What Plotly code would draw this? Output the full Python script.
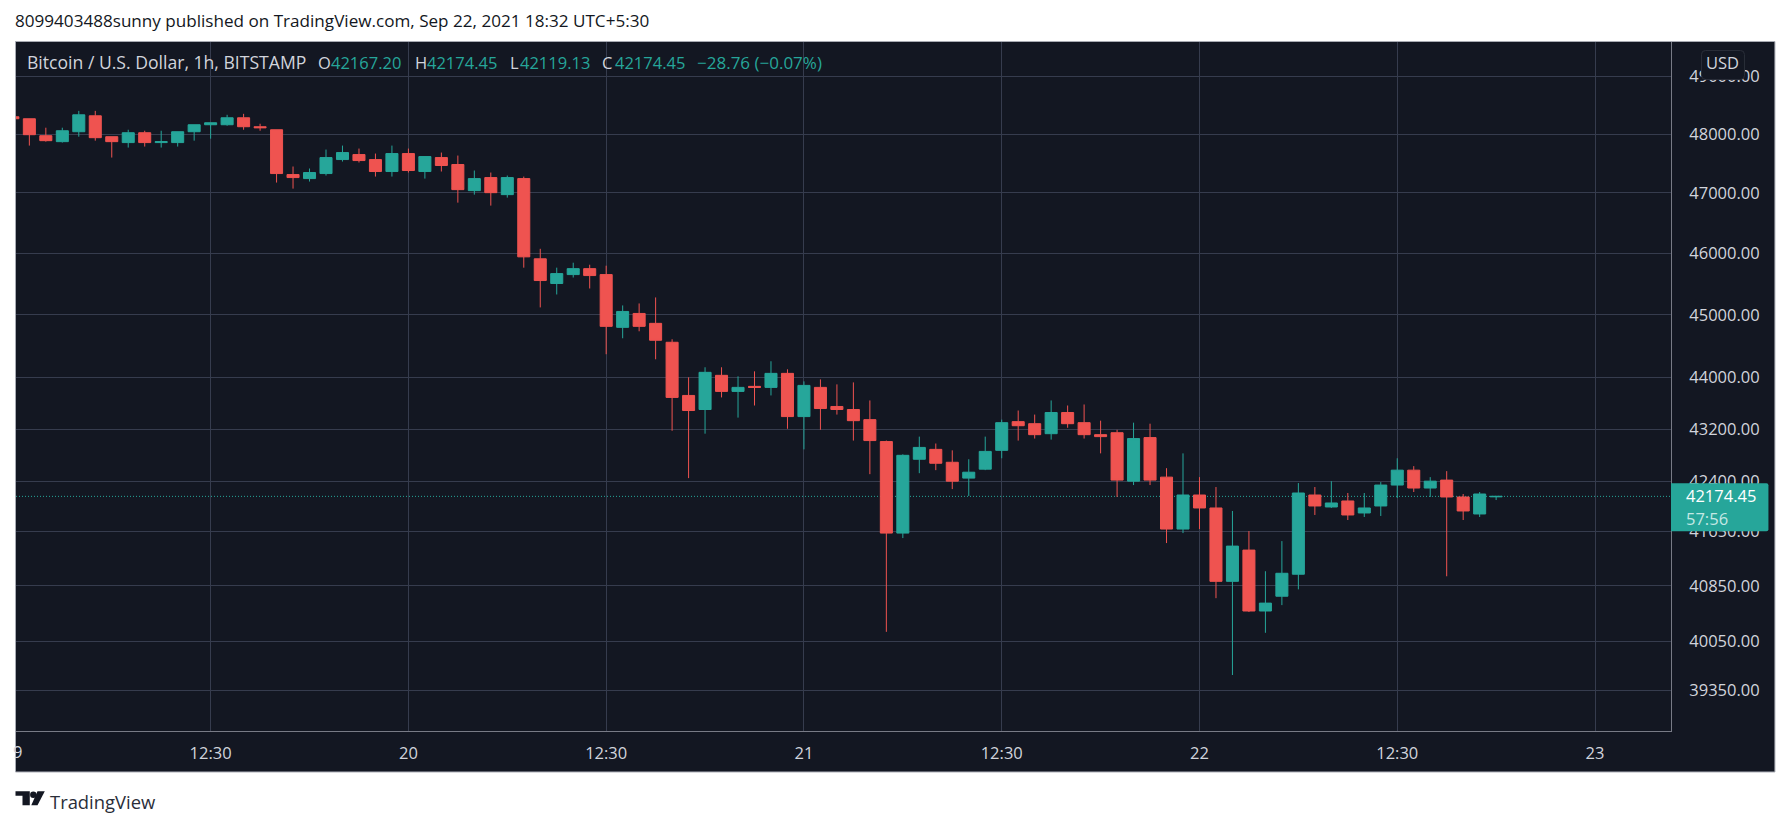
import math
import pandas as pd
import plotly.graph_objects as go

# hourly bars, local time (UTC+5:30)
times = pd.date_range('2021-09-19 00:30', periods=91, freq='h')

opens = [48296, 48262, 47971, 47869, 48039, 48313, 47954, 47853, 48022, 47853, 47853, 48039, 48159,
         48159, 48279, 48125, 48073, 47310, 47242, 47327, 47564, 47649, 47564, 47361, 47666, 47361,
         47598, 47480, 47039, 47259, 46972, 47242, 45908, 45505, 45650, 45747, 45650, 44798, 45021,
         44862, 44560, 43722, 43503, 44037, 43785, 43864, 43848, 44068, 43393, 43848, 43550, 43503,
         43346, 43008, 41625, 42737, 42888, 42691, 42450, 42586, 42873, 43315, 43283, 43129, 43456,
         43299, 43114, 43144, 42404, 43069, 42465, 41685, 42195, 42000, 40914, 41373, 40483, 40697,
         41018, 42195, 42015, 42105, 41925, 42030, 42345, 42571, 42300, 42420, 42165, 41910, 42167.20]
highs = [48296, 48262, 48108, 48108, 48398, 48398, 47954, 48073, 48056, 48056, 48039, 48159, 48193,
         48330, 48347, 48176, 48073, 47446, 47412, 47734, 47802, 47751, 47666, 47802, 47751, 47615,
         47683, 47632, 47378, 47344, 47293, 47276, 46072, 45763, 45844, 45811, 45795, 45150, 45182,
         45279, 44608, 44005, 44164, 44164, 44021, 44100, 44259, 44132, 43942, 43973, 43895, 43926,
         43644, 43023, 42812, 43084, 42978, 42873, 42737, 43084, 43346, 43487, 43424, 43644, 43565,
         43581, 43330, 43189, 43299, 43283, 42601, 42827, 42465, 42315, 41955, 41655, 41062, 41506,
         42375, 42315, 42404, 42225, 42225, 42390, 42752, 42632, 42465, 42556, 42210, 42240, 42174.45]
lows = [48262, 47802, 47869, 47853, 47954, 47886, 47598, 47768, 47785, 47768, 47785, 47886, 47920,
        48142, 48073, 48056, 47175, 47073, 47192, 47293, 47530, 47514, 47276, 47276, 47344, 47242,
        47361, 46838, 46972, 46788, 46922, 45763, 45118, 45327, 45602, 45424, 44370, 44624, 44735,
        44290, 43174, 42450, 43129, 43691, 43377, 43565, 43722, 43205, 42888, 43189, 43424, 43023,
        42510, 40183, 41551, 42525, 42571, 42284, 42180, 42571, 42752, 43023, 43054, 43038, 43220,
        43054, 42827, 42165, 42345, 42345, 41477, 41625, 41685, 40669, 39568, 40468, 40169, 40568,
        40797, 41895, 42000, 41820, 41865, 41880, 42150, 42240, 42165, 40988, 41820, 41865, 42119.13]
closes = [48262, 47988, 47886, 48056, 48330, 47937, 47869, 48022, 47853, 47869, 48039, 48159, 48193,
          48279, 48125, 48108, 47327, 47259, 47344, 47598, 47683, 47547, 47361, 47666, 47378, 47615,
          47463, 47056, 47242, 47005, 47259, 45940, 45553, 45666, 45747, 45634, 44814, 45053, 44814,
          44592, 43691, 43487, 44084, 43785, 43848, 43848, 44068, 43393, 43879, 43518, 43503, 43330,
          43023, 41625, 42797, 42918, 42676, 42404, 42540, 42857, 43299, 43252, 43114, 43456, 43283,
          43114, 43084, 42420, 43054, 42420, 41685, 42195, 42000, 40914, 41432, 40483, 40597, 41032,
          42225, 42030, 42075, 41895, 42000, 42345, 42571, 42300, 42404, 42165, 41955, 42210, 42174.45]

price_ticks = [49000, 48000, 47000, 46000, 45000, 44000, 43200, 42400, 41650, 40850, 40050, 39350]
time_ticks = ['2021-09-19 12:30', '2021-09-20 00:30', '2021-09-20 12:30', '2021-09-21 00:30',
              '2021-09-21 12:30', '2021-09-22 00:30', '2021-09-22 12:30', '2021-09-23 00:30']
time_labels = ['12:30', '20', '12:30', '21', '12:30', '22', '12:30', '23']

UP = '#26a69a'
DOWN = '#ef5350'
BG = '#131722'
GRID = '#363c4e'
AXIS_TEXT = '#d1d4dc'
FONT = 'Open Sans'
SIZE = 16.5

W, H = 1791, 826
L, R, T, B = 15.5, 1671.5, 41.5, 731


def px(x):
    return (x - L) / (R - L)


def py(y):
    return (B - y) / (B - T)


def path(points):
    return 'M ' + ' L '.join(f'{px(x)},{py(y)}' for x, y in points) + ' Z'


fig = go.Figure(go.Candlestick(
    x=times, open=opens, high=highs, low=lows, close=closes,
    increasing=dict(line=dict(color=UP, width=1), fillcolor=UP),
    decreasing=dict(line=dict(color=DOWN, width=1), fillcolor=DOWN),
    whiskerwidth=0,
))

shapes = [
    # panel behind plot and axes
    dict(type='rect', xref='paper', yref='paper', x0=px(15), x1=px(1775.5), y0=py(772), y1=py(41),
         fillcolor=BG, line=dict(color='#a8abb3', width=1), layer='below'),
    # last price line
    dict(type='line', xref='paper', yref='y', x0=0, x1=1, y0=closes[-1], y1=closes[-1],
         line=dict(color=UP, width=1, dash='1px,2px'), layer='below'),
    # last price tag
    dict(type='path', xref='paper', yref='paper', fillcolor=UP, line=dict(width=0), layer='above',
         path=f'M {px(1671.5)},{py(483)} L {px(1767)},{py(483)} Q {px(1769)},{py(483)} {px(1769)},{py(485)} '
              f'L {px(1769)},{py(529)} Q {px(1769)},{py(531)} {px(1767)},{py(531)} L {px(1671.5)},{py(531)} Z'),
    # USD button
    dict(type='path', xref='paper', yref='paper', fillcolor=BG, line=dict(color='#2a2e39', width=1), layer='above',
         path=f'M {px(1706)},{py(50)} L {px(1741)},{py(50)} Q {px(1745)},{py(50)} {px(1745)},{py(54)} '
              f'L {px(1745)},{py(75)} Q {px(1745)},{py(79)} {px(1741)},{py(79)} L {px(1706)},{py(79)} '
              f'Q {px(1702)},{py(79)} {px(1702)},{py(75)} L {px(1702)},{py(54)} Q {px(1702)},{py(50)} {px(1706)},{py(50)} Z'),
    # TradingView mark
    dict(type='path', xref='paper', yref='paper', fillcolor=BG, line=dict(width=0), layer='above',
         path=path([(15, 791.3), (29.3, 791.3), (29.3, 805.3), (22, 805.3), (22, 795.8), (15, 795.8)])),
    dict(type='circle', xref='paper', yref='paper', fillcolor=BG, line=dict(width=0), layer='above',
         x0=px(29.6), x1=px(36), y0=py(798), y1=py(791.5)),
    dict(type='path', xref='paper', yref='paper', fillcolor=BG, line=dict(width=0), layer='above',
         path=path([(37, 791.3), (44.3, 791.3), (37, 805.3), (30.8, 805.3)])),
]


def label(x, y, text, color, anchor='left', size=SIZE):
    return dict(xref='paper', yref='paper', x=px(x), y=py(y), text=text, showarrow=False,
                xanchor=anchor, yanchor='middle', borderpad=0, borderwidth=0,
                font=dict(family=FONT, size=size, color=color))


annotations = [
    label(14.5, 19.5, '8099403488sunny published on TradingView.com, Sep 22, 2021 18:32 UTC+5:30', '#131722', size=17.1),
    label(26.5, 62, 'Bitcoin / U.S. Dollar, 1h, BITSTAMP', AXIS_TEXT, size=17.6),
    label(317.5, 62, 'O', AXIS_TEXT),
    label(330.5, 62, f'{opens[-1]:.2f}', UP),
    label(414.5, 62, 'H', AXIS_TEXT),
    label(426.5, 62, f'{highs[-1]:.2f}', UP),
    label(510, 62, 'L', AXIS_TEXT),
    label(519.5, 62, f'{lows[-1]:.2f}', UP),
    label(602, 62, 'C', AXIS_TEXT),
    label(614.5, 62, f'{closes[-1]:.2f}', UP),
    label(696.5, 62, '\u221228.76 (\u22120.07%)', UP, size=17),
    label(21.5, 752, '9', AXIS_TEXT, anchor='right'),
    label(1723.5, 62.5, 'USD', AXIS_TEXT, anchor='center'),
    label(1687, 495.5, f'{closes[-1]:.2f}', '#ffffff'),
    label(1687, 518, '57:56', '#c4e8e4'),
    label(50, 801.5, 'TradingView', '#2a2e39', size=18.4),
]

fig.update_layout(
    width=W, height=H,
    margin=dict(l=L, r=W - R, t=T, b=H - B, pad=0),
    paper_bgcolor='white',
    plot_bgcolor=BG,
    showlegend=False,
    boxgap=0.27,
    boxgroupgap=0,
    shapes=shapes,
    annotations=annotations,
    xaxis=dict(
        type='date',
        range=['2021-09-19 00:41:24', '2021-09-23 05:06:36'],
        rangeslider=dict(visible=False),
        tickmode='array', tickvals=time_ticks, ticktext=time_labels,
        tickfont=dict(family=FONT, size=SIZE, color=AXIS_TEXT),
        showgrid=True, gridcolor=GRID, gridwidth=1,
        showline=True, linecolor='#787b86', linewidth=1,
        ticks='outside', ticklen=7, tickcolor=BG,
        zeroline=False,
    ),
    yaxis=dict(
        type='log',
        side='right',
        range=[math.log10(38785), math.log10(49603)],
        tickmode='array', tickvals=price_ticks, ticktext=[f'{p:.2f}' for p in price_ticks],
        tickfont=dict(family=FONT, size=SIZE, color=AXIS_TEXT),
        showgrid=True, gridcolor=GRID, gridwidth=1,
        showline=True, linecolor='#787b86', linewidth=1,
        ticks='outside', ticklen=14, tickcolor=BG,
        zeroline=False,
    ),
)

fig.write_html('out.html', config=dict(displayModeBar=False),
               post_script="document.body.style.margin='0';")
